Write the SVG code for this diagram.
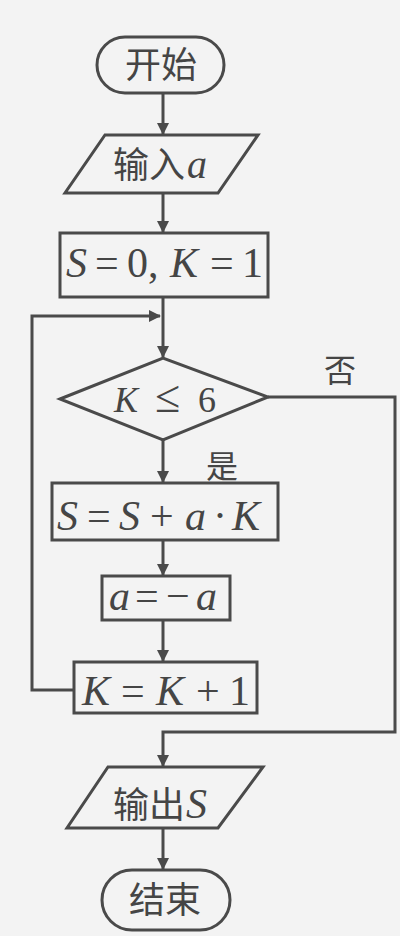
<svg xmlns="http://www.w3.org/2000/svg" width="400" height="936" viewBox="0 0 400 936">
<defs>
<style>
.shape{fill:none;stroke:#4a4a4a;stroke-width:3}
.line{fill:none;stroke:#4a4a4a;stroke-width:3}
.cjk{font-family:"Noto Sans CJK SC","Noto Sans CJK JP",sans-serif;fill:#454545}
.math{font-family:"Liberation Serif",serif;fill:#454545}
.it{font-style:italic}
</style>
<marker id="arr" markerWidth="12" markerHeight="14" refX="11" refY="7" orient="auto" markerUnits="userSpaceOnUse">
<path d="M0,1 L12,7 L0,13 Z" fill="#4a4a4a"/>
</marker>
</defs>
<rect width="400" height="936" fill="#f3f3f3"/>
<g id="connectors">
<line class="line" x1="163" y1="93" x2="163" y2="134" marker-end="url(#arr)"/>
<line class="line" x1="163" y1="193" x2="163" y2="232" marker-end="url(#arr)"/>
<line class="line" x1="163" y1="297" x2="163" y2="357" marker-end="url(#arr)"/>
<line class="line" x1="163" y1="440" x2="163" y2="482" marker-end="url(#arr)"/>
<line class="line" x1="163" y1="540" x2="163" y2="575" marker-end="url(#arr)"/>
<line class="line" x1="163" y1="620" x2="163" y2="661" marker-end="url(#arr)"/>
<polyline class="line" points="74,690 32,690 32,316 160,316" marker-end="url(#arr)"/>
<polyline class="line" points="268,397 395,397 395,732 163,732 163,766" marker-end="url(#arr)"/>
<line class="line" x1="163" y1="828" x2="163" y2="869" marker-end="url(#arr)"/>
<text class="cjk" x="340" y="382" font-size="32" text-anchor="middle">否</text>
<text class="cjk" x="222" y="478" font-size="32" text-anchor="middle">是</text>
</g>
<g id="start">
<rect class="shape" x="97" y="37" width="127" height="56" rx="28"/>
<text class="cjk" x="161" y="78" font-size="36" text-anchor="middle">开始</text>
</g>
<g id="input">
<polygon class="shape" points="105,135 258,135 218,193 65,193"/>
<text class="cjk" x="113" y="178" font-size="36">输入</text>
<text class="math it" x="187" y="178" font-size="40">a</text>
</g>
<g id="init">
<rect class="shape" x="60" y="233" width="208" height="64"/>
<text class="math" y="277" font-size="42"><tspan class="it" x="66">S</tspan><tspan x="95">=</tspan><tspan x="127">0,</tspan><tspan class="it" x="170">K</tspan><tspan x="210">=</tspan><tspan x="242">1</tspan></text>
</g>
<g id="cond">
<polygon class="shape" points="60,399 163,358 268,397 163,440"/>
<text class="math" y="412" font-size="36"><tspan class="it" x="114">K</tspan><tspan x="155" font-size="46">≤</tspan><tspan x="198">6</tspan></text>
</g>
<g id="sum">
<rect class="shape" x="52" y="483" width="226" height="57"/>
<text class="math" y="530" font-size="42"><tspan class="it" x="57">S</tspan><tspan x="87">=</tspan><tspan class="it" x="119">S</tspan><tspan x="150">+</tspan><tspan class="it" x="185">a</tspan><tspan x="213">·</tspan><tspan class="it" x="232">K</tspan></text>
</g>
<g id="neg">
<rect class="shape" x="102" y="576" width="128" height="44"/>
<text class="math" y="610" font-size="42"><tspan class="it" x="109">a</tspan><tspan x="135">=</tspan><tspan x="166">−</tspan><tspan class="it" x="196">a</tspan></text>
</g>
<g id="inc">
<rect class="shape" x="74" y="662" width="183" height="51"/>
<text class="math" y="705" font-size="42"><tspan class="it" x="82">K</tspan><tspan x="121">=</tspan><tspan class="it" x="156">K</tspan><tspan x="196">+</tspan><tspan x="229">1</tspan></text>
</g>
<g id="output">
<polygon class="shape" points="108,767 263,767 218,828 67,828"/>
<text class="cjk" x="113" y="818" font-size="36">输出</text>
<text class="math it" x="186" y="818" font-size="42">S</text>
</g>
<g id="end">
<rect class="shape" x="102" y="870" width="128" height="60" rx="30"/>
<text class="cjk" x="165" y="913" font-size="36" text-anchor="middle">结束</text>
</g>
</svg>
